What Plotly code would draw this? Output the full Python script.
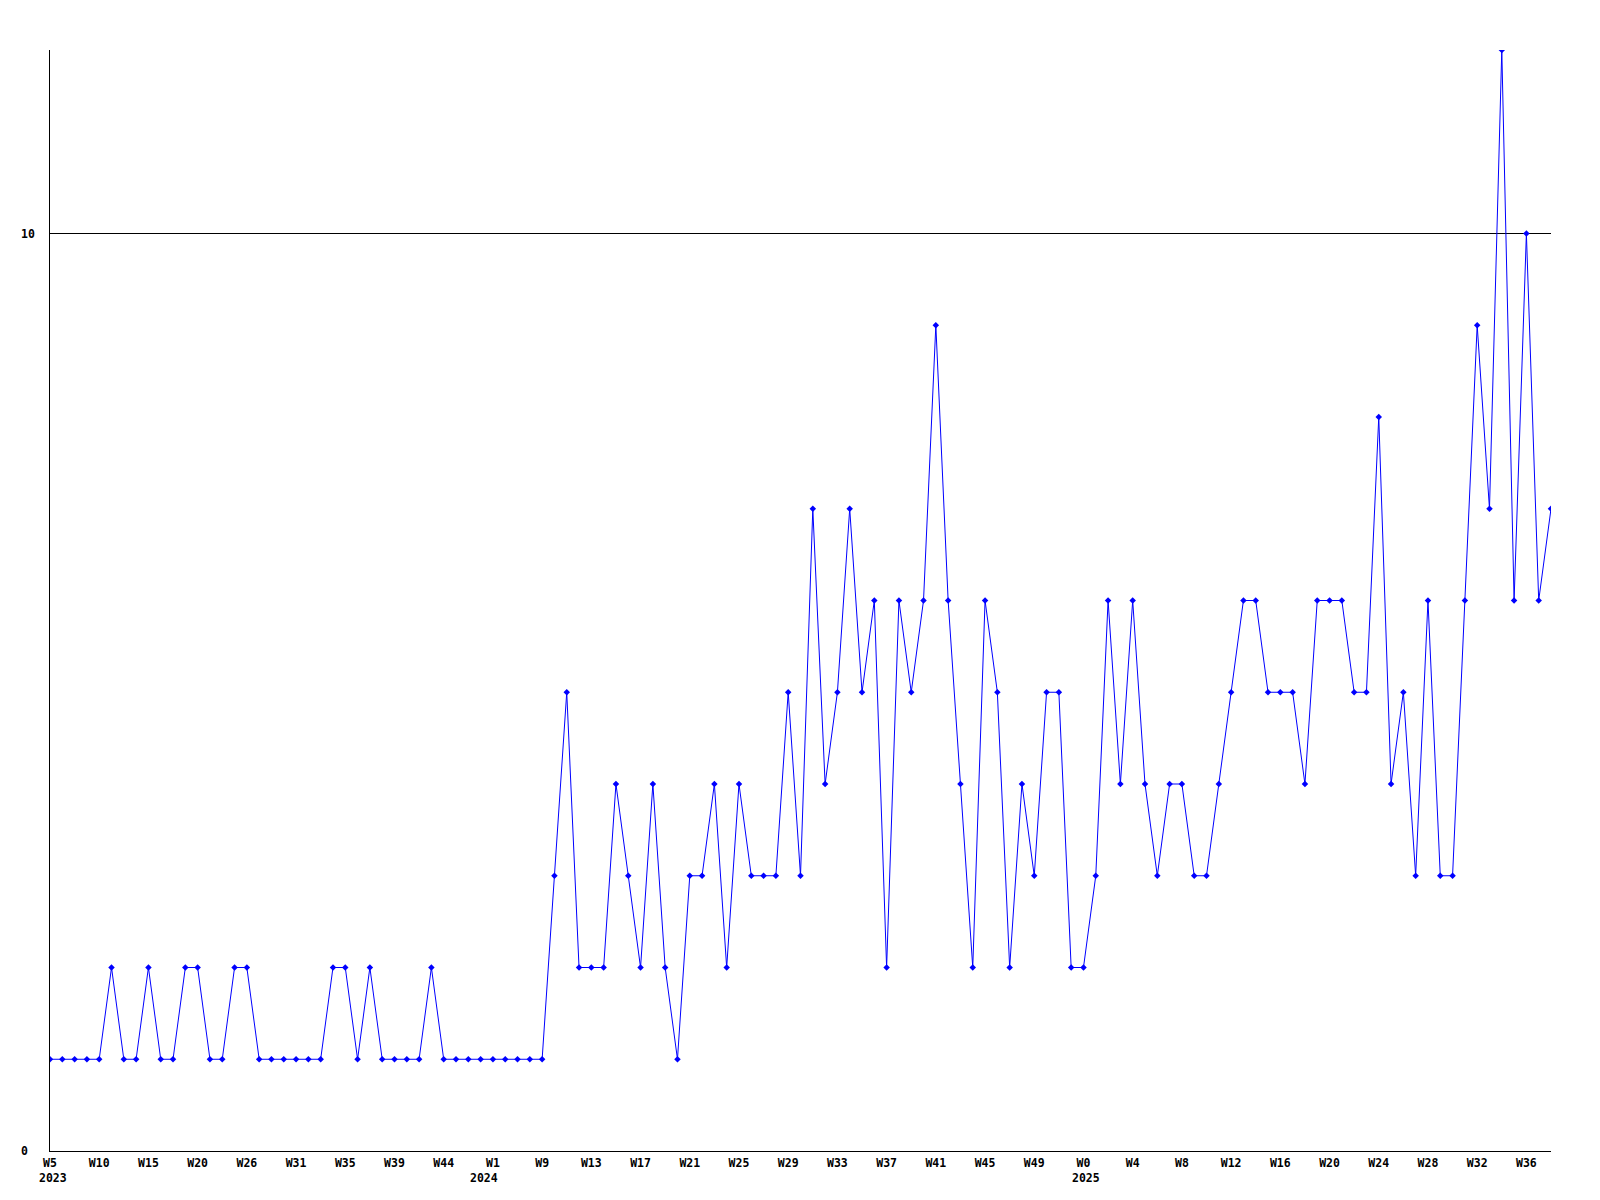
import plotly.graph_objects as go

# ---- data ----
values = [
    1, 1, 1, 1, 1, 2, 1, 1, 2, 1,
    1, 2, 2, 1, 1, 2, 2, 1, 1, 1,
    1, 1, 1, 2, 2, 1, 2, 1, 1, 1,
    1, 2, 1, 1, 1, 1, 1, 1, 1, 1,
    1, 3, 5, 2, 2, 2, 4, 3, 2, 4,
    2, 1, 3, 3, 4, 2, 4, 3, 3, 3,
    5, 3, 7, 4, 5, 7, 5, 6, 2, 6,
    5, 6, 9, 6, 4, 2, 6, 5, 2, 4,
    3, 5, 5, 2, 2, 3, 6, 4, 6, 4,
    3, 4, 4, 3, 3, 4, 5, 6, 6, 5,
    5, 5, 4, 6, 6, 6, 5, 5, 8, 4,
    5, 3, 6, 3, 3, 6, 9, 7, 12, 6,
    10, 6, 7,
]
week_labels = [
    "W5", "W10", "W15", "W20", "W26", "W31", "W35", "W39", "W44", "W1",
    "W9", "W13", "W17", "W21", "W25", "W29", "W33", "W37", "W41", "W45",
    "W49", "W0", "W4", "W8", "W12", "W16", "W20", "W24", "W28", "W32", "W36",
]
label_step = 4
year_labels = ["2023", "2024", "2025"]
year_label_index = [0, 36, 84]
y_tick_values = [0, 10]

x = list(range(len(values)))
tickvals = [i * label_step for i in range(len(week_labels))]

FONT = dict(family="DejaVu Sans Mono", size=11.5, color="black")

fig = go.Figure()
fig.add_trace(go.Scatter(
    x=x, y=values, mode="lines+markers",
    line=dict(color="#0000FF", width=1),
    marker=dict(symbol="diamond", size=5, color="#0000FF", line=dict(width=0)),
    hoverinfo="skip",
))

annotations = []
for txt, idx, shift in zip(year_labels, year_label_index, [3, -9, 3]):
    annotations.append(dict(
        x=idx, xref="x", y=0, yref="paper", text="<b>%s</b>" % txt,
        showarrow=False, xanchor="center", yanchor="middle",
        xshift=shift, yshift=-27, font=FONT,
    ))
for v in y_tick_values:
    annotations.append(dict(
        x=0, xref="paper", y=v, yref="y", text="<b>%d</b>" % v,
        showarrow=False, xanchor="left", yanchor="middle",
        xshift=-31, font=FONT,
    ))

fig.update_layout(
    width=1584, height=1184,
    margin=dict(l=42, r=41, t=42, b=41),
    paper_bgcolor="white", plot_bgcolor="white",
    showlegend=False,
    annotations=annotations,
    font=FONT,
)
fig.update_xaxes(
    range=[0, len(values) - 1],
    tickmode="array", tickvals=tickvals,
    ticktext=["<b>%s</b>" % t for t in week_labels],
    showgrid=False, zeroline=False,
    showline=True, linecolor="black", linewidth=1,
    ticks="", ticklabelstandoff=1,
    tickfont=FONT,
)
fig.update_yaxes(
    range=[0, 12],
    tickmode="array", tickvals=y_tick_values,
    showticklabels=False,
    showgrid=True, gridcolor="black", gridwidth=1,
    zeroline=False,
    showline=True, linecolor="black", linewidth=1,
    ticks="",
)

fig.write_html("out.html")
